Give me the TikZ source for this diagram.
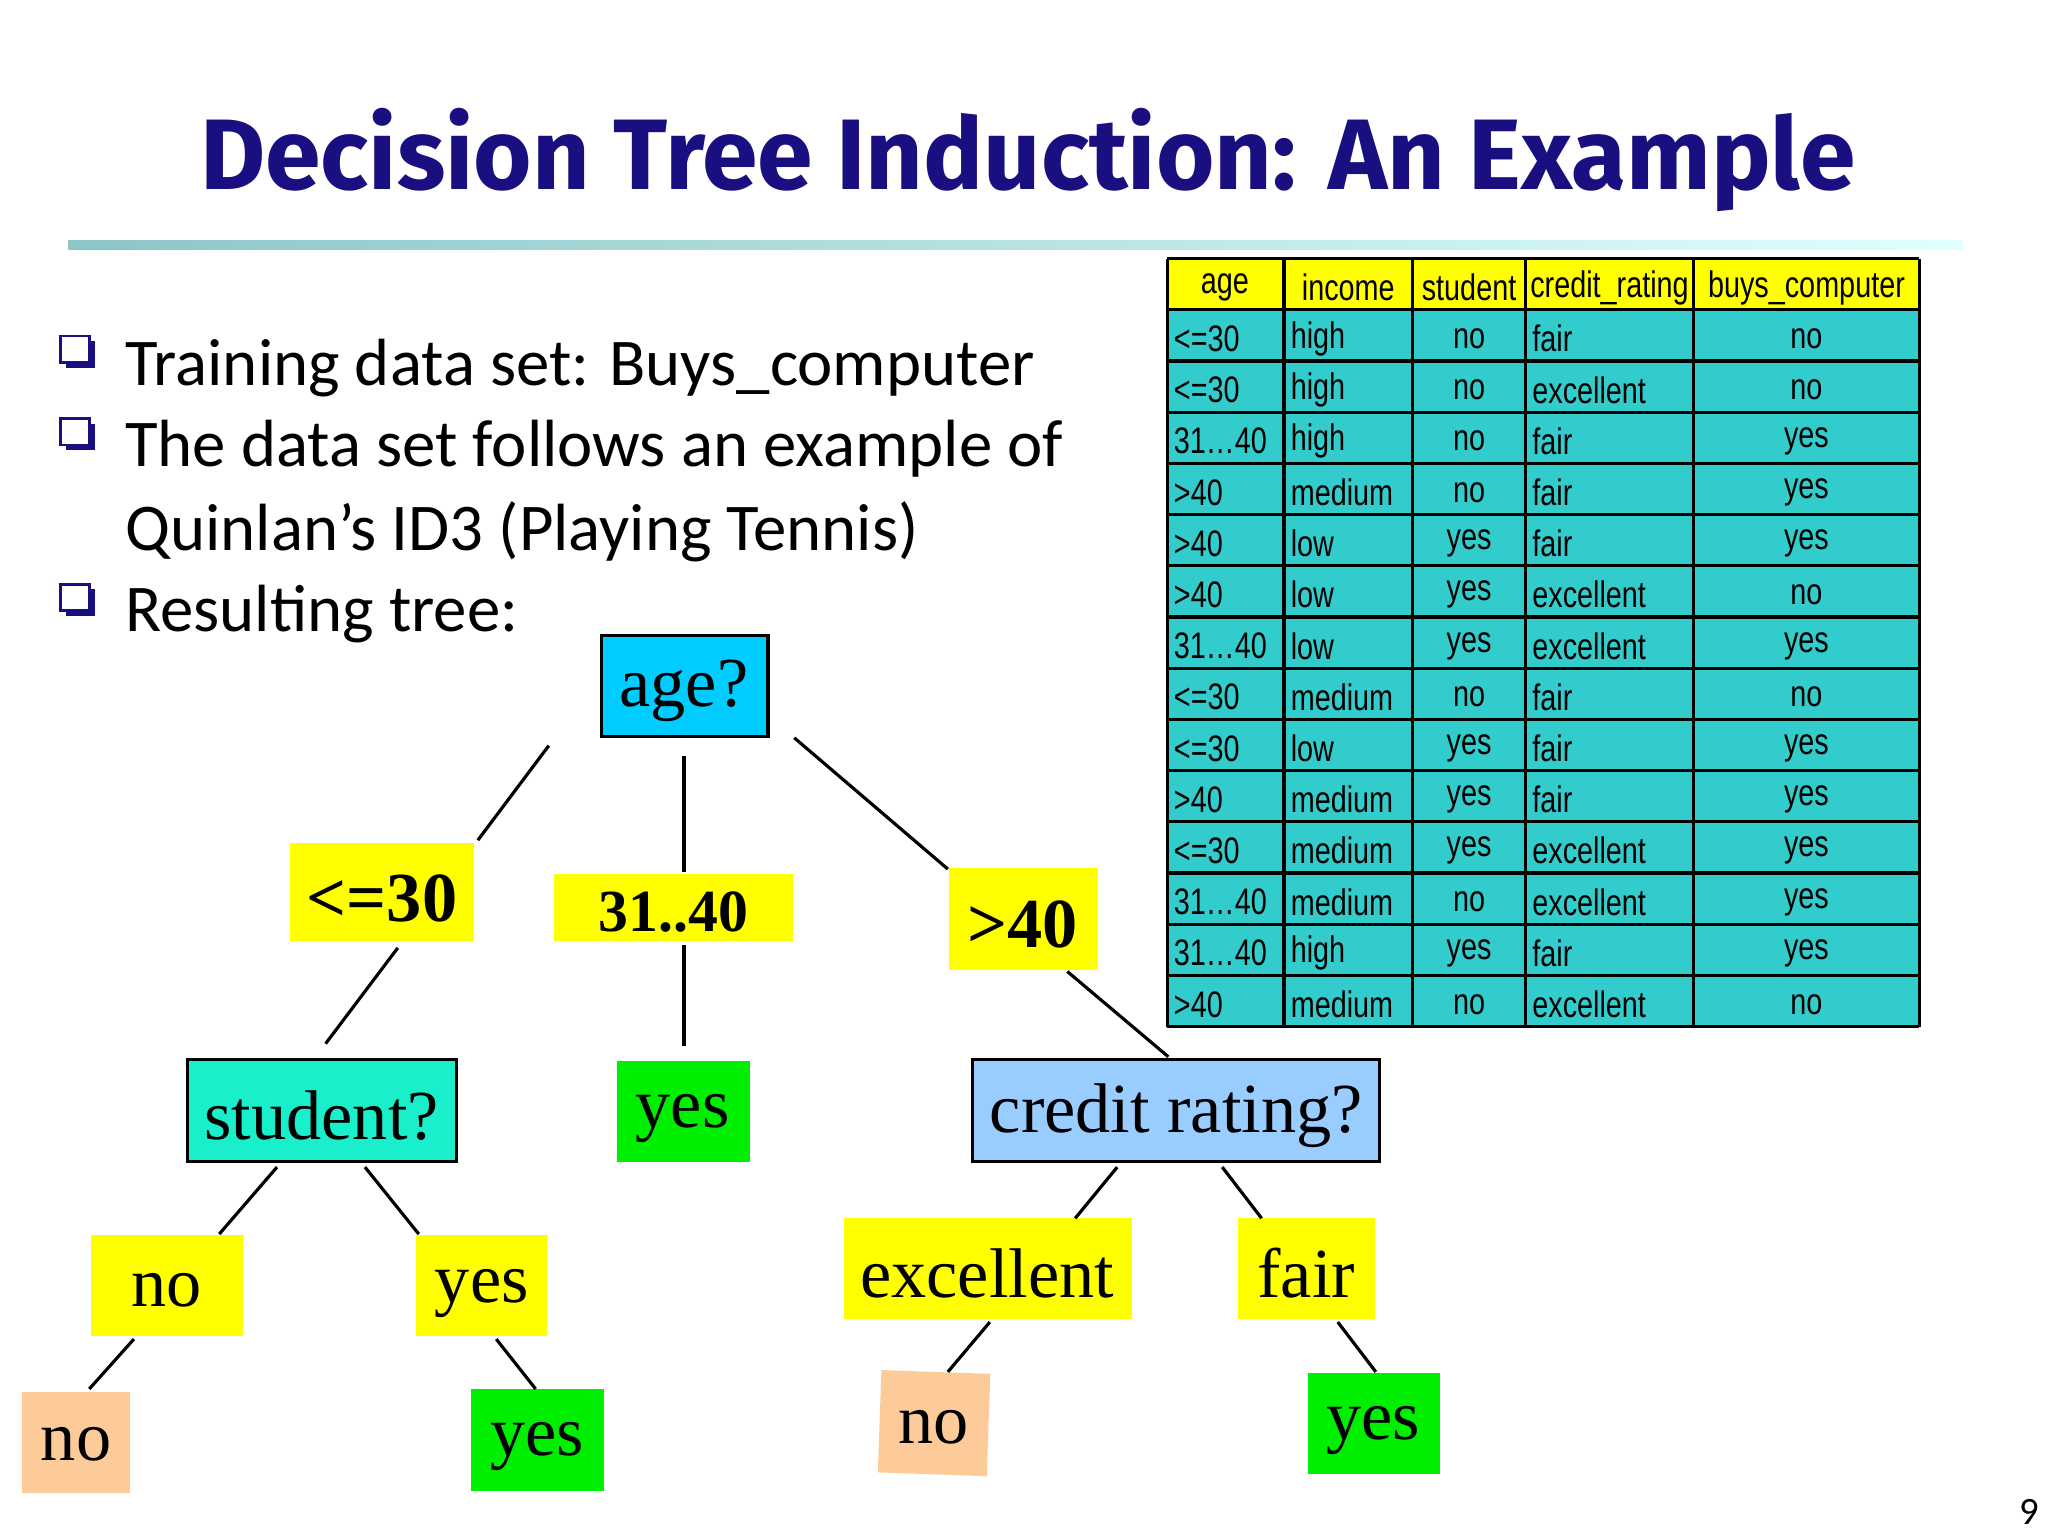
\documentclass[tikz,border=0pt]{standalone}
\usepackage{fontspec}
\setmainfont{Liberation Serif}
\newfontfamily\titlefont{Fira Sans}
\newfontfamily\bodyfont{Carlito}
\newfontfamily\tabfont[FakeStretch=0.78]{Liberation Sans}
\definecolor{titleblue}{HTML}{1A0F80}
\definecolor{tealc}{HTML}{33CCCC}
\definecolor{yel}{HTML}{FFFF00}
\definecolor{grn}{HTML}{00EE00}
\definecolor{peach}{HTML}{FCCB99}
\definecolor{agec}{HTML}{00CCFF}
\definecolor{stuc}{HTML}{1AEFCC}
\definecolor{crc}{HTML}{99CCFF}
\tikzset{
 px/.style={x=0.013128cm,y=-0.013128cm},
 tt/.style={font=\fontsize{20}{22}\selectfont},
 edge/.style={line width=0.9pt},
 cell/.style={font=\tabfont\fontsize{10.5}{12}\selectfont,inner sep=1pt},
 btxt/.style={anchor=west,font=\bodyfont\fontsize{19}{22}\selectfont}
}
\begin{document}
\begin{tikzpicture}[px]
\useasboundingbox (0,0) rectangle (1560,1170);
\fill[white] (0,0) rectangle (1560,1170);
% title
\node[font=\titlefont\bfseries\fontsize{28.5}{32}\selectfont,text=titleblue] (title) at (783,122) {Decision Tree Induction: An Example};
\shade[left color=teal!45, right color=cyan!12] (52,183) rectangle (1495,190);
% bullets
\foreach \y in {268,331,457}{
 \draw[titleblue,line width=0.8pt,fill=white] (46,\y-12) rectangle (68,\y+8);
 \fill[titleblue] (50,\y+8) rectangle (72,\y+12);
 \fill[titleblue] (68,\y-8) rectangle (72,\y+12);
}
\node[btxt] (b1) at (86,280) {Training data set: Buys\_computer};
\node[btxt] (b2) at (86,342) {The data set follows an example of};
\node[btxt] (b3) at (86,405) {Quinlan’s ID3 (Playing Tennis)};
\node[btxt] (b4) at (86,468) {Resulting tree:};
% table
\fill[yel] (889,197) rectangle (1462,236);
\fill[tealc] (889,236) rectangle (1462,782);
\foreach \x in {889,978,1076,1162,1290,1462} \draw[line width=0.9pt] (\x,197) -- (\x,782);
\draw[line width=0.9pt] (889,197) -- (1462,197);
\foreach \i in {0,...,14} \draw[line width=0.9pt] (889,236+39*\i) -- (1462,236+39*\i);
\node[cell] (h1) at (933,219) {age};
\node[cell] (h2) at (1027,219) {income};
\node[cell] (h3) at (1119,219) {student};
\node[cell] (h4) at (1226,219) {credit\_rating};
\node[cell] (h5) at (1376,219) {buys\_computer};
\foreach \a/\b/\c/\d/\e [count=\i from 0] in {
 {<=30}/high/no/fair/no,
 {<=30}/high/no/excellent/no,
 {31…40}/high/no/fair/yes,
 {>40}/medium/no/fair/yes,
 {>40}/low/yes/fair/yes,
 {>40}/low/yes/excellent/no,
 {31…40}/low/yes/excellent/yes,
 {<=30}/medium/no/fair/no,
 {<=30}/low/yes/fair/yes,
 {>40}/medium/yes/fair/yes,
 {<=30}/medium/yes/excellent/yes,
 {31…40}/medium/no/excellent/yes,
 {31…40}/high/yes/fair/yes,
 {>40}/medium/no/excellent/no}{
 \node[cell,anchor=west] at (891,258+39*\i) {\a};
 \node[cell,anchor=west] at (980,258+39*\i) {\b};
 \node[cell] at (1119,258+39*\i) {\c};
 \node[cell,anchor=west] at (1164,258+39*\i) {\d};
 \node[cell] at (1376,258+39*\i) {\e};
}
% tree nodes
\draw[fill=agec,line width=0.9pt] (458,484) rectangle (585,561); \node[tt] (age) at (521,526) {age?};
\fill[yel] (221,642) rectangle (361,717); \node[font=\bfseries\fontsize{20}{22}\selectfont] (le30) at (291,684) {<=30};
\fill[yel] (422,666) rectangle (604,717); \node[font=\bfseries\fontsize{17}{20}\selectfont] (mid) at (513,695) {31..40};
\fill[yel] (723,661) rectangle (836,739); \node[font=\bfseries\fontsize{20}{22}\selectfont] (gt40) at (779,704) {>40};
\draw[fill=stuc,line width=0.9pt] (143,807) rectangle (348,885); \node[tt] (stu) at (245,850) {student?};
\fill[grn] (470,808) rectangle (571,885); \node[tt] (y1) at (520,852) {yes};
\draw[fill=crc,line width=0.9pt] (741,807) rectangle (1051,885); \node[tt] (cr) at (896,850) {credit rating?};
\fill[yel] (69,941) rectangle (185,1018); \node[tt] (sno) at (127,983) {no};
\fill[yel] (317,941) rectangle (417,1018); \node[tt] (syes) at (367,985) {yes};
\fill[yel] (643,928) rectangle (862,1005); \node[tt] (exc) at (752,970) {excellent};
\fill[yel] (943,928) rectangle (1047,1005); \node[tt] (fair) at (995,970) {fair};
\fill[peach] (17,1060) rectangle (99,1137); \node[tt] (l1) at (58,1100) {no};
\fill[grn] (359,1058) rectangle (460,1136); \node[tt] (l2) at (409,1102) {yes};
\fill[peach,rotate around={-2:(711,1084)}] (670,1045) rectangle (753,1123); \node[tt] (l3) at (711,1087) {no};
\fill[grn] (996,1046) rectangle (1097,1123); \node[tt] (l4) at (1046,1090) {yes};
% edges
\foreach \a/\b/\c/\d in {418/568/364/640, 521/576/521/664, 605/562/722/662, 303/722/248/795, 521/720/521/797, 813/740/890/805, 211/889/167/940, 278/889/319/940, 102/1020/68/1058, 378/1020/408/1058, 851/889/819/928, 931/889/961/928, 754/1007/722/1045, 1019/1007/1048/1045}
 \draw[edge] (\a,\b) -- (\c,\d);
\node[font=\bodyfont\fontsize{11}{12}\selectfont] (pg) at (1546,1152) {9};
\end{tikzpicture}
\end{document}
